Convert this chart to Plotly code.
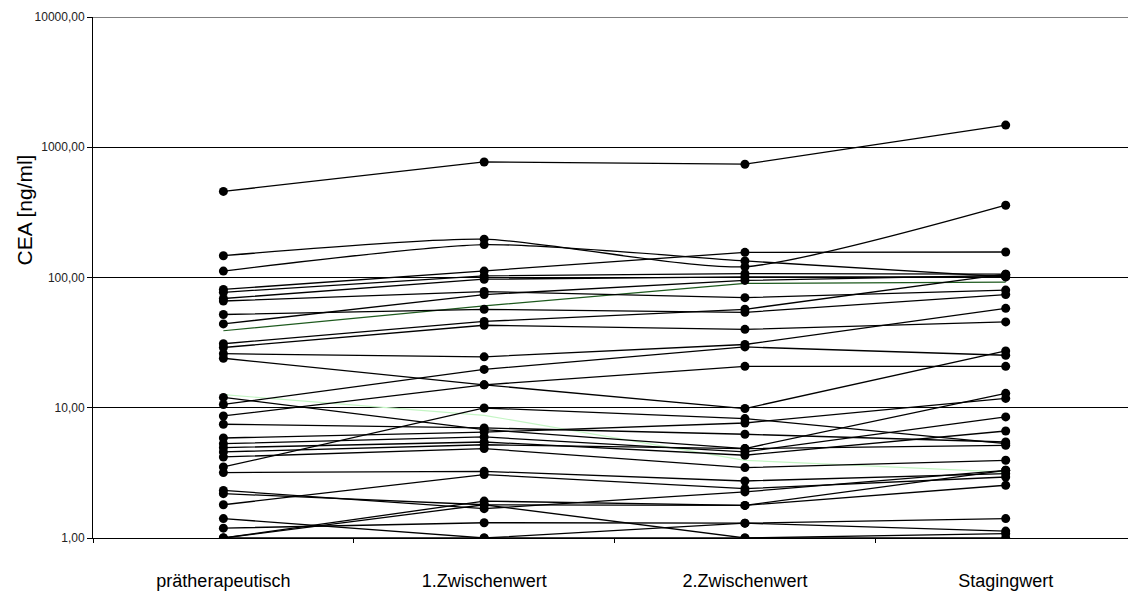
import plotly.graph_objects as go

# Time points of the CEA measurements
categories = ["prätherapeutisch", "1.Zwischenwert", "2.Zwischenwert", "Stagingwert"]

# CEA values per patient (ng/ml) at the four time points
patients = [
    [458, 771, 741, 1479],
    [147, 197, 121, 359],
    [112, 179, 134, 101],
    [81, 112, 156, 157],
    [77, 103, 107, 106],
    [69, 97, 101, 101],
    [66, 78, 70, 80],
    [52, 57, 54, 74],
    [44, 74, 95, 104],
    [39, 60.5, 90, 92],
    [31, 46, 57, 106],
    [29, 43, 40, 45.6],
    [26, 24.6, 30.6, 58],
    [24, 15, 9.86, 27.3],
    [12.6, 8.75, 3.95, 3.2],
    [12, 6.8, 4.86, 12.9],
    [10.6, 19.7, 29.3, 25.3],
    [8.65, 15, 20.8, 20.8],
    [7.47, 7.0, 6.26, 5.46],
    [5.86, 6.5, 7.64, 11.8],
    [5.3, 5.97, 4.58, 8.5],
    [4.94, 5.46, 4.32, 6.63],
    [4.58, 5.2, 4.86, 5.15],
    [4.19, 4.86, 3.47, 3.95],
    [3.51, 9.96, 8.26, 5.3],
    [3.18, 3.25, 2.74, 3.12],
    [2.32, 1.68, 2.26, 3.31],
    [2.19, 1.8, 1.78, 2.54],
    [1.80, 3.07, 2.39, 2.94],
    [1.41, 1.0, 1.0, 1.08],
    [1.19, 1.31, 1.30, 1.41],
    [1.0, 1.92, 1.78, 3.31],
    [1.0, 1.0, 1.30, 1.13],
    [1.0, 1.8, 1.0, 1.0],
]

# Patients drawn as smoothed curves
smoothed = {1, 2}
# Patients drawn as coloured lines without markers
line_only = {9: "#1e5a1e", 14: "#c4f5c4"}

y_tickvals = [1, 10, 100, 1000, 10000]
y_ticktext = ["1,00", "10,00", "100,00", "1000,00", "10000,00"]

fig = go.Figure()

# coloured lines underneath the black ones
order = [i for i in range(len(patients)) if i in line_only] + \
        [i for i in range(len(patients)) if i not in line_only]

for i in order:
    vals = patients[i]
    if i in line_only:
        fig.add_trace(go.Scatter(
            x=categories, y=vals, mode="lines",
            line=dict(color=line_only[i], width=1.2),
            showlegend=False, hoverinfo="skip"))
    else:
        fig.add_trace(go.Scatter(
            x=categories, y=vals, mode="lines+markers",
            line=dict(color="black", width=1.3,
                      shape="spline" if i in smoothed else "linear",
                      smoothing=0.6),
            marker=dict(color="black", size=9, symbol="circle"),
            showlegend=False, hoverinfo="skip"))

font_family = "Liberation Sans, Arial, sans-serif"

fig.update_layout(
    width=1128, height=604,
    margin=dict(l=93, r=0, t=17, b=66),
    paper_bgcolor="white", plot_bgcolor="white",
    font=dict(family=font_family, color="black"),
    xaxis=dict(
        type="category",
        categoryorder="array", categoryarray=categories,
        range=[-0.5, 3.469],
        showgrid=False,
        showline=True, linecolor="black", linewidth=1,
        ticks="outside", tickson="boundaries", ticklen=4,
        tickcolor="black",
        tickfont=dict(size=18, color="black", family=font_family),
        ticklabelstandoff=26,
        zeroline=False,
    ),
    yaxis=dict(
        type="log",
        range=[0, 4],
        tickvals=y_tickvals, ticktext=y_ticktext,
        showgrid=True, gridcolor="black", gridwidth=1,
        showline=True, linecolor="black", linewidth=1,
        ticks="outside", ticklen=5, tickcolor="black",
        tickfont=dict(size=12, color="#222222", family=font_family),
        zeroline=False,
    ),
    annotations=[dict(
        text="CEA [ng/ml]", textangle=-90,
        xref="paper", yref="paper",
        x=-0.066, y=0.63, xanchor="center", yanchor="middle",
        showarrow=False,
        font=dict(size=21, color="black", family=font_family),
    )],
    shapes=[dict(
        type="line", xref="paper", yref="y",
        x0=0, x1=1, y0=10000, y1=10000,
        line=dict(color="black", width=1),
    )],
)

fig.write_html("out.html")
